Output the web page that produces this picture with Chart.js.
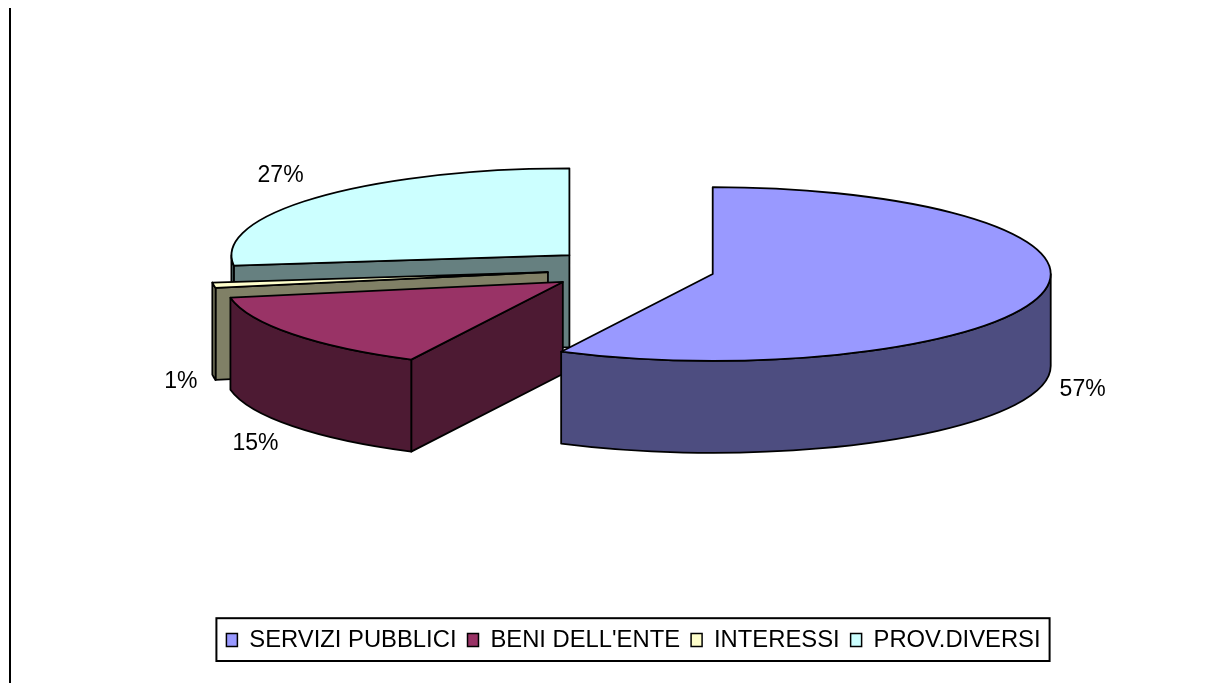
<!DOCTYPE html>
<html>
<head>
<meta charset="utf-8">
<style>
html,body{margin:0;padding:0;background:#fff;overflow:hidden}
#wrap{position:relative;width:1229px;height:683px}
canvas{display:block}
</style>
<script src="https://cdn.jsdelivr.net/npm/chart.js@4"></script>
</head>
<body>
<div id="wrap"><canvas id="c" width="1229" height="683"></canvas></div>
<script>
const categories = ['SERVIZI PUBBLICI', "BENI DELL'ENTE", 'INTERESSI', 'PROV.DIVERSI'];
const values = [57.4, 14.7, 1.0, 26.9];
const topColors = ['#9999FF', '#993366', '#FFFFCC', '#CCFFFF'];
const wallColors = ['#4D4D80', '#4D1A33', '#808066', '#668080'];

const pieCenterX = 630;
const pieCenterY = 269;
const pieRadius = 338;
const pieTilt = 0.257;
const pieDepth = 92;
const pieExplode = [85, 84, 83, 81];
const labelShift = [[41, 96], [-37, 110], [-33, 96], [-36, -21.5]];
const fontName = '"Liberation Sans", Arial, sans-serif';

function geom(arc, i) {
  const mid = (arc.startAngle + arc.endAngle) / 2;
  return {
    cx: pieCenterX + Math.cos(mid) * pieExplode[i],
    cy: pieCenterY + Math.sin(mid) * pieExplode[i] * pieTilt,
    rx: arc.outerRadius,
    ry: arc.outerRadius * pieTilt,
    mid
  };
}
function wallFace(ctx, g, a) {
  ctx.beginPath();
  ctx.moveTo(g.cx, g.cy);
  ctx.lineTo(g.cx + Math.cos(a) * g.rx, g.cy + Math.sin(a) * g.ry);
  ctx.lineTo(g.cx + Math.cos(a) * g.rx, g.cy + Math.sin(a) * g.ry + pieDepth);
  ctx.lineTo(g.cx, g.cy + pieDepth);
  ctx.closePath();
  ctx.fill(); ctx.stroke();
}
function rimWall(ctx, g, a, b) {
  const TAU = Math.PI * 2;
  for (const shift of [0, TAU, -TAU]) {
    const lo = Math.max(a + shift, 0), hi = Math.min(b + shift, Math.PI);
    if (hi <= lo) continue;
    ctx.beginPath();
    ctx.ellipse(g.cx, g.cy, g.rx, g.ry, 0, lo, hi);
    ctx.ellipse(g.cx, g.cy + pieDepth, g.rx, g.ry, 0, hi, lo, true);
    ctx.closePath();
    ctx.fill(); ctx.stroke();
  }
}
const pie3d = {
  id: 'pie3d',
  beforeDatasetDraw(chart, args) {
    const ctx = chart.ctx;
    const arcs = chart.getDatasetMeta(args.index).data;
    for (let i = arcs.length - 1; i >= 0; i--) {
      const arc = arcs[i], g = geom(arc, i);
      ctx.save();
      ctx.lineWidth = 1.8;
      ctx.strokeStyle = '#000';
      ctx.lineJoin = 'round';
      ctx.fillStyle = wallColors[i];
      if (Math.cos(arc.startAngle) < -1e-6) wallFace(ctx, g, arc.startAngle);
      if (Math.cos(arc.endAngle) > 1e-6) wallFace(ctx, g, arc.endAngle);
      rimWall(ctx, g, arc.startAngle, arc.endAngle);
      ctx.restore();

      ctx.save();
      ctx.translate(g.cx, g.cy);
      ctx.scale(1, pieTilt);
      ctx.translate(-arc.x, -arc.y);
      arc.draw(ctx);
      ctx.restore();

      ctx.save();
      ctx.beginPath();
      ctx.moveTo(g.cx, g.cy);
      ctx.ellipse(g.cx, g.cy, g.rx, g.ry, 0, arc.startAngle, arc.endAngle);
      ctx.closePath();
      ctx.lineWidth = 1.8;
      ctx.strokeStyle = '#000';
      ctx.lineJoin = 'round';
      ctx.stroke();
      ctx.restore();
    }
    return false;
  },
  afterDatasetsDraw(chart) {
    const ctx = chart.ctx;
    const arcs = chart.getDatasetMeta(0).data;
    ctx.save();
    ctx.font = '23px ' + fontName;
    ctx.fillStyle = '#000';
    ctx.textAlign = 'center';
    ctx.textBaseline = 'middle';
    arcs.forEach((arc, i) => {
      const g = geom(arc, i);
      const px = g.cx + Math.cos(g.mid) * g.rx + labelShift[i][0];
      const py = g.cy + Math.sin(g.mid) * g.ry + labelShift[i][1];
      ctx.fillText(Math.round(values[i]) + '%', px, py);
    });
    ctx.restore();
  },
  beforeDraw(chart) {
    const ctx = chart.ctx;
    ctx.save();
    ctx.fillStyle = '#fff';
    ctx.fillRect(0, 0, chart.width, chart.height);
    ctx.strokeStyle = '#000';
    ctx.lineWidth = 2;
    ctx.beginPath();
    ctx.moveTo(10, 8);
    ctx.lineTo(10, chart.height);
    ctx.stroke();
    const lg = chart.legend, hb = lg.legendHitBoxes;
    const last = hb[hb.length - 1];
    const x0 = hb[0].left - 10, x1 = last.left + last.width + 9;
    ctx.strokeRect(x0, lg.top + 1, x1 - x0, lg.bottom - lg.top - 2);
    ctx.restore();
  }
};

new Chart(document.getElementById('c'), {
  type: 'pie',
  plugins: [pie3d],
  data: {
    labels: categories,
    datasets: [{
      data: values,
      backgroundColor: topColors,
      borderWidth: 0,
      offset: 0
    }]
  },
  options: {
    responsive: false,
    animation: false,
    radius: pieRadius,
    layout: { padding: { left: 38, right: 0, top: 0, bottom: 21 } },
    plugins: {
      tooltip: { enabled: false },
      legend: {
        position: 'bottom',
        onClick: null,
        labels: {
          font: { family: fontName, size: 23.8 },
          color: '#000',
          boxWidth: 11,
          boxHeight: 13,
          padding: 11,
          generateLabels(chart) {
            return categories.map((t, i) => ({
              text: t, fillStyle: topColors[i], strokeStyle: '#000', lineWidth: 1.5, index: i
            }));
          }
        }
      }
    }
  }
});
</script>
</body>
</html>
